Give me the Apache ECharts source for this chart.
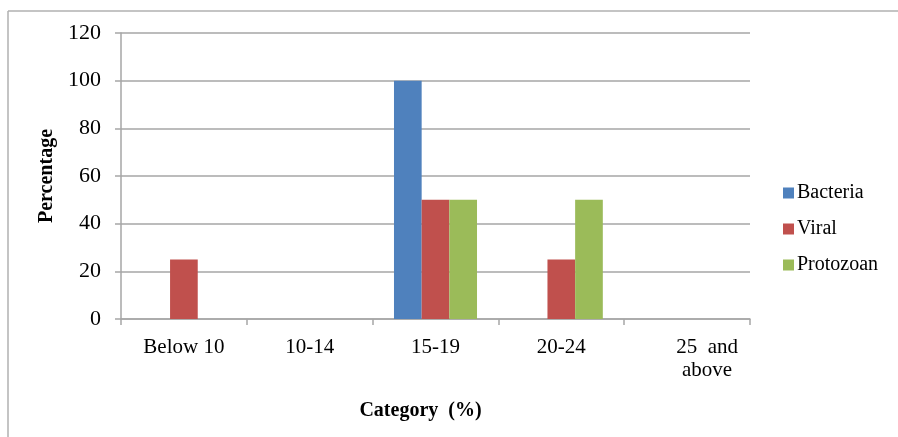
<!DOCTYPE html>
<html>
<head>
<meta charset="utf-8">
<style>
  html, body { margin: 0; padding: 0; background: #ffffff; }
  #chart { width: 898px; height: 437px; }
</style>
<script src="https://cdn.jsdelivr.net/npm/echarts@6/dist/echarts.min.js"></script>
</head>
<body>
<div id="chart"></div>
<script>
// Age categories (x axis)
const categories = ['Below 10', '10-14', '15-19', '20-24', '25  and\nabove'];

// Percentage of each infection type per category
const bacteria  = [0, 0, 100, 0, 0];
const viral     = [25, 0, 50, 25, 0];
const protozoan = [0, 0, 50, 50, 0];

// Y axis range and step
const yMin = 0;
const yMax = 120;
const yStep = 20;

const serif = '"Liberation Serif", "Times New Roman", serif';
const gridGray = '#a6a6a6';

const chart = echarts.init(document.getElementById('chart'), null, { renderer: 'canvas' });

const xData = categories.map(function (c, i) {
  if (i === categories.length - 1) {
    return { value: c, textStyle: { padding: [0, 0, 0, 40] } };
  }
  return c;
});

chart.setOption({
  animation: false,
  backgroundColor: '#ffffff',
  graphic: [
    { type: 'line', shape: { x1: 8, y1: 11, x2: 898, y2: 11 }, style: { stroke: '#b0b0b0', lineWidth: 1.5 } },
    { type: 'line', shape: { x1: 8, y1: 11, x2: 8, y2: 437 }, style: { stroke: '#b0b0b0', lineWidth: 1.5 } }
  ],
  grid: { left: 121, right: 148, top: 33, bottom: 118, containLabel: false },
  legend: {
    orient: 'vertical',
    left: 783,
    top: 183,
    padding: 0,
    itemWidth: 11,
    itemHeight: 11,
    itemGap: 16,
    icon: 'rect',
    textStyle: { fontFamily: serif, fontSize: 20, color: '#000', padding: [0, 0, 0, -2] },
    data: ['Bacteria', 'Viral', 'Protozoan']
  },
  xAxis: {
    type: 'category',
    data: xData,
    name: 'Category  (%)',
    nameLocation: 'middle',
    nameGap: 82,
    nameTextStyle: { fontFamily: serif, fontSize: 20, fontWeight: 'bold', color: '#000', padding: [0, 30, 0, 0] },
    axisLine: { show: true, lineStyle: { color: gridGray, width: 1.5 } },
    axisTick: { show: true, alignWithLabel: false, length: 6, lineStyle: { color: gridGray, width: 1.5 } },
    axisLabel: { fontFamily: serif, fontSize: 21, color: '#000', margin: 17, lineHeight: 23, interval: 0 }
  },
  yAxis: {
    type: 'value',
    min: yMin,
    max: yMax,
    interval: yStep,
    name: 'Percentage',
    nameLocation: 'middle',
    nameGap: 62,
    nameRotate: 90,
    nameTextStyle: { fontFamily: serif, fontSize: 20, fontWeight: 'bold', color: '#000' },
    axisLine: { show: true, lineStyle: { color: gridGray, width: 1.5 } },
    axisTick: { show: true, length: 6, lineStyle: { color: gridGray, width: 1.5 } },
    axisLabel: { fontFamily: serif, fontSize: 22, color: '#000', margin: 20 },
    splitLine: { show: true, lineStyle: { color: gridGray, width: 1.5 } }
  },
  series: [
    { name: 'Bacteria', type: 'bar', data: bacteria, barGap: '0%', barCategoryGap: '34%', itemStyle: { color: '#4f81bd' } },
    { name: 'Viral', type: 'bar', data: viral, barGap: '0%', barCategoryGap: '34%', itemStyle: { color: '#c0504d' } },
    { name: 'Protozoan', type: 'bar', data: protozoan, barGap: '0%', barCategoryGap: '34%', itemStyle: { color: '#9bbb59' } }
  ]
});
</script>
</body>
</html>
